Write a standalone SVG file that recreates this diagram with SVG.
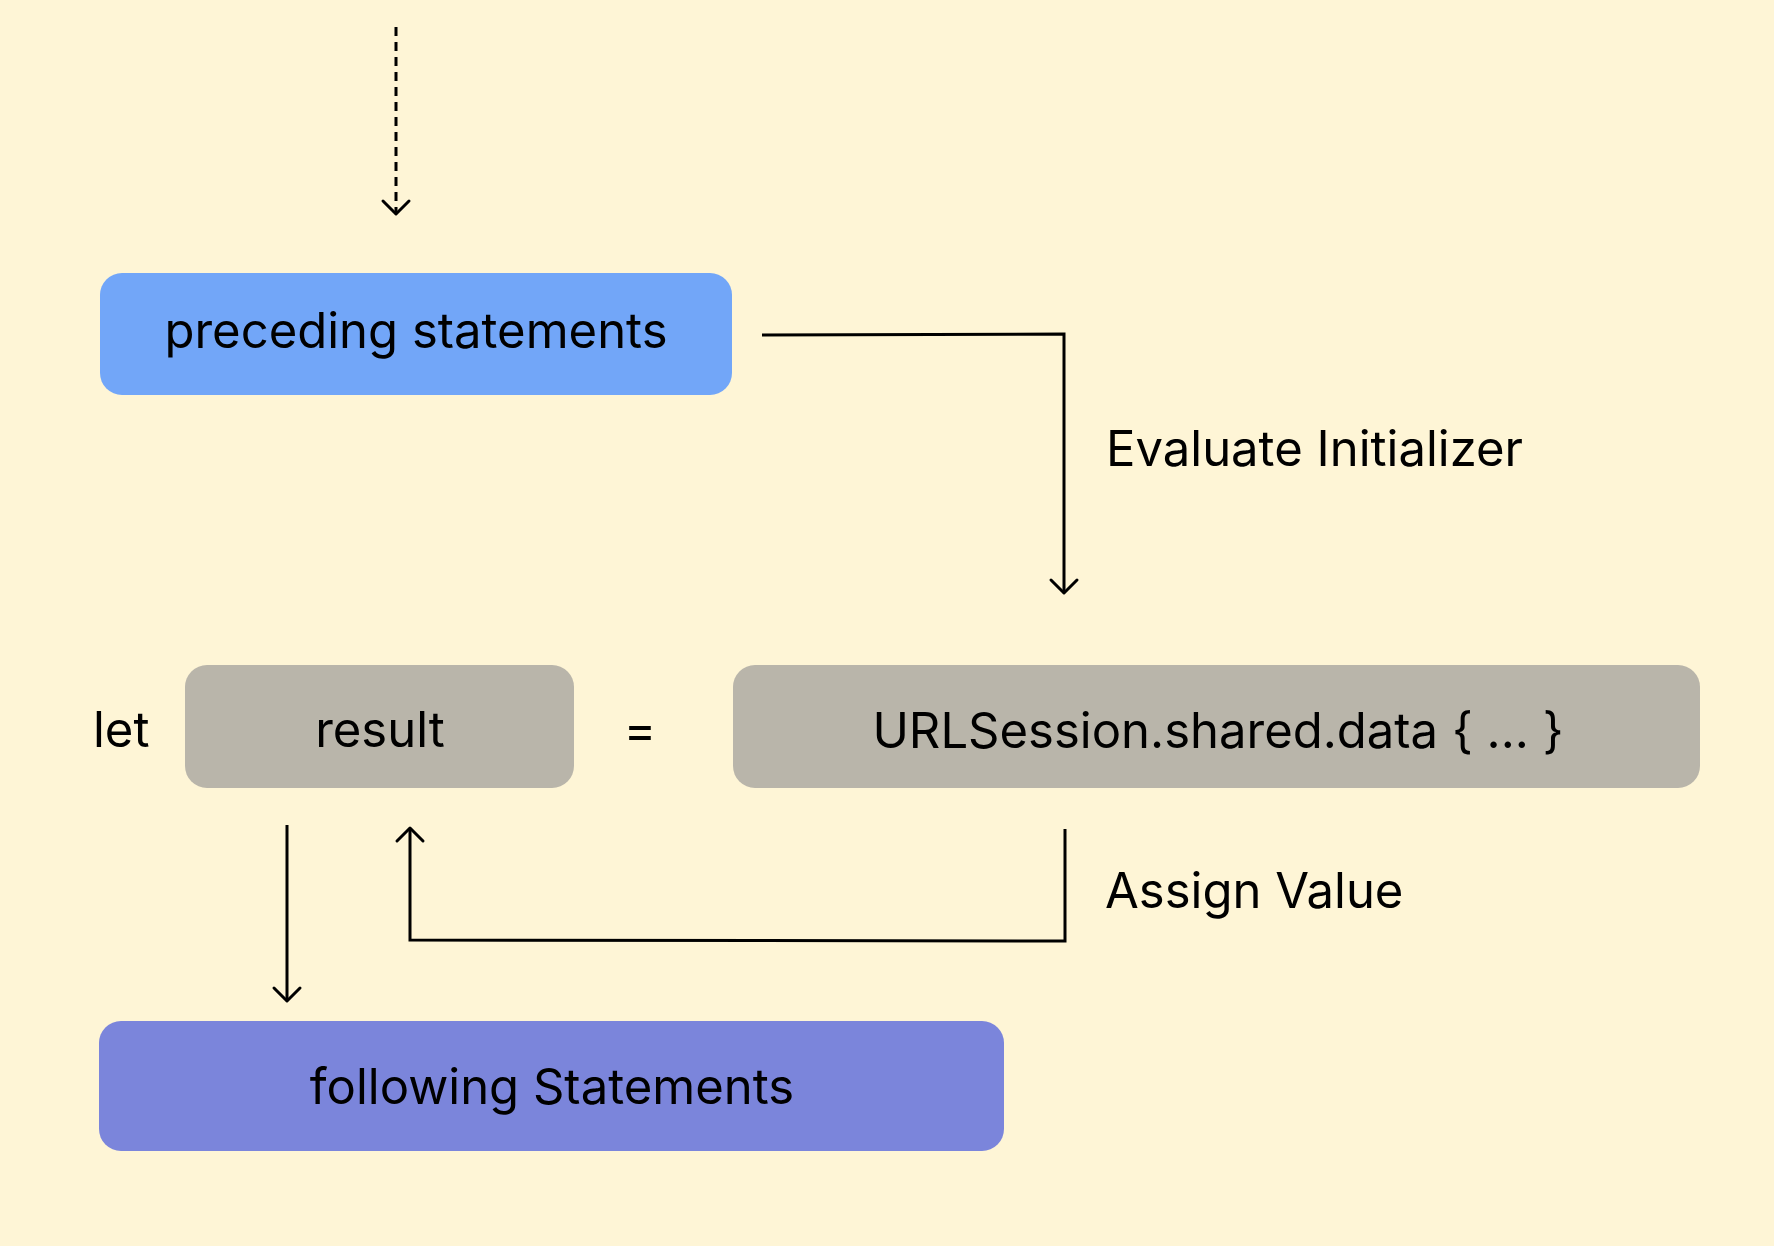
<svg xmlns="http://www.w3.org/2000/svg" width="1774" height="1246" viewBox="0 0 1774 1246">
  <defs>
    <style>
      .lbl { font-family: Inter, "Noto Sans", "Liberation Sans", sans-serif; font-size: 49px; fill: #000; }
      .mid { text-anchor: middle; }
      .conn { fill: none; stroke: #000; stroke-width: 3; }
      .head { fill: none; stroke: #000; stroke-width: 3; stroke-linecap: round; stroke-linejoin: round; }
    </style>
  </defs>
  <rect x="0" y="0" width="1774" height="1246" fill="#FEF5D6"/>

  <g id="connectors">
    <g id="entry-arrow">
      <line class="conn" x1="396" y1="27" x2="396" y2="213" stroke-dasharray="9 6"/>
      <polyline class="head" points="383,201 396,214 409,201"/>
    </g>
    <g id="evaluate-arrow">
      <polyline class="conn" points="762,335 1064,334 1064,592"/>
      <polyline class="head" points="1051,580 1064,593 1077,580"/>
    </g>
    <g id="assign-arrow">
      <polyline class="conn" points="1065,829 1065,941 410,940 410,829"/>
      <polyline class="head" points="397,841 410,828 423,841"/>
    </g>
    <g id="next-arrow">
      <line class="conn" x1="287" y1="825" x2="287" y2="1000"/>
      <polyline class="head" points="274,988 287,1001 300,988"/>
    </g>
  </g>

  <g id="node-preceding">
    <rect x="100" y="273" width="632" height="122" rx="22" fill="#72A6F8"/>
    <text class="lbl mid" x="416" y="348">preceding statements</text>
  </g>

  <g id="label-evaluate">
    <text class="lbl" x="1106" y="466">Evaluate Initializer</text>
  </g>

  <g id="label-let">
    <text class="lbl" x="93" y="747">let</text>
  </g>

  <g id="node-result">
    <rect x="185" y="665" width="389" height="123" rx="22" fill="#B9B5AA"/>
    <text class="lbl mid" x="380" y="747">result</text>
  </g>

  <g id="label-equals">
    <text class="lbl mid" x="640" y="747">=</text>
  </g>

  <g id="node-initializer">
    <rect x="733" y="665" width="967" height="123" rx="22" fill="#B9B5AA"/>
    <text class="lbl mid" x="1218" y="748">URLSession.shared.data { ... }</text>
  </g>

  <g id="label-assign">
    <text class="lbl" x="1105" y="908">Assign Value</text>
  </g>

  <g id="node-following">
    <rect x="99" y="1021" width="905" height="130" rx="22" fill="#7B85DB"/>
    <text class="lbl mid" x="552" y="1104">following Statements</text>
  </g>
</svg>
